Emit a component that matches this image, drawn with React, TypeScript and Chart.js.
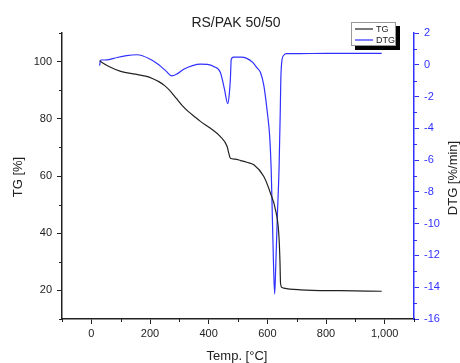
import React, { useEffect, useRef } from "react";
import { Chart, registerables } from "chart.js";

Chart.register(...registerables);

const chartTitle = "RS/PAK 50/50";
const xTitle = "Temp. [°C]";
const yTitle = "TG [%]";
const y2Title = "DTG [%/min]";

const xTicks = [0, 200, 400, 600, 800, 1000];
const yTicks = [20, 40, 60, 80, 100];
const y2Ticks = [-16, -14, -12, -10, -8, -6, -4, -2, 0, 2];

const tgTemp = [28, 35, 60, 100, 150, 185, 210, 230, 250, 270, 290, 310, 330, 350, 372, 406, 440, 463, 469, 474, 490, 509, 530, 554, 588, 611, 628, 639, 643, 645, 650, 656, 713, 850, 990];
const tgVal = [100.3, 99.8, 98.3, 96.6, 95.6, 94.9, 94.0, 93.0, 91.6, 89.6, 87.1, 84.6, 82.6, 80.9, 79.1, 76.7, 73.8, 70.3, 67.8, 66.2, 65.9, 65.4, 64.8, 63.9, 59.8, 53.9, 48.1, 39.9, 30.5, 22.4, 21.0, 20.8, 20.2, 19.9, 19.7];

const dtgTemp = [28, 32, 45, 60, 88, 120, 156, 201, 230, 255, 274, 290, 315, 345, 372, 395, 417, 440, 454, 465, 470, 474, 477, 485, 510, 530, 550, 565, 577, 588, 600, 608, 613, 617, 621, 625, 629, 634, 640, 644, 646, 650, 656, 665, 700, 800, 900, 990];
const dtgVal = [-0.05, 0.3, 0.3, 0.32, 0.46, 0.58, 0.63, 0.35, 0.0, -0.4, -0.7, -0.6, -0.28, -0.05, 0.04, 0.02, -0.11, -0.49, -1.55, -2.45, -1.9, -0.91, 0.35, 0.48, 0.48, 0.4, 0.15, -0.2, -0.5, -1.3, -3.0, -4.5, -6.5, -9.5, -12.5, -14.43, -12.5, -9.6, -6.5, -3.0, -0.9, 0.3, 0.6, 0.7, 0.7, 0.72, 0.72, 0.72];

const FONT = "'Liberation Sans', Arial, sans-serif";
const BLUE = "#3030ff";
const BLACK = "#222222";

const decorPlugin = {
  id: "decor",
  afterDraw(chart: any) {
    const ctx = chart.ctx as CanvasRenderingContext2D;
    const x = chart.scales.x;
    const y = chart.scales.y;
    const y2 = chart.scales.y2;
    const area = chart.chartArea;
    ctx.save();
    ctx.lineWidth = 1;
    ctx.strokeStyle = BLACK;
    for (let v = -100; v <= 1100; v += 200) {
      const px = Math.round(x.getPixelForValue(v)) + 0.5;
      ctx.beginPath();
      ctx.moveTo(px, area.bottom);
      ctx.lineTo(px, area.bottom + 3);
      ctx.stroke();
    }
    for (let v = 10; v <= 110; v += 20) {
      const py = Math.round(y.getPixelForValue(v)) + 0.5;
      ctx.beginPath();
      ctx.moveTo(area.left, py);
      ctx.lineTo(area.left - 3, py);
      ctx.stroke();
    }
    ctx.strokeStyle = BLUE;
    for (let v = -15; v <= 1; v += 2) {
      const py = Math.round(y2.getPixelForValue(v)) + 0.5;
      ctx.beginPath();
      ctx.moveTo(area.right, py);
      ctx.lineTo(area.right + 3, py);
      ctx.stroke();
    }
    ctx.fillStyle = BLACK;
    ctx.textAlign = "center";
    ctx.textBaseline = "middle";
    ctx.font = `14px ${FONT}`;
    ctx.fillText(chartTitle, 236, 23);
    ctx.font = `13px ${FONT}`;
    ctx.fillText(xTitle, 237, 356);
    ctx.save();
    ctx.translate(18, 177);
    ctx.rotate(-Math.PI / 2);
    ctx.fillText(yTitle, 0, 0);
    ctx.restore();
    ctx.save();
    ctx.translate(453, 178);
    ctx.rotate(-Math.PI / 2);
    ctx.fillText(y2Title, 0, 0);
    ctx.restore();
    ctx.fillStyle = "#000";
    ctx.fillRect(355, 26, 45, 24);
    ctx.fillStyle = "#fff";
    ctx.fillRect(351, 22, 45, 24);
    ctx.strokeStyle = "#999";
    ctx.lineWidth = 1;
    ctx.strokeRect(351.5, 22.5, 44, 23);
    const ds = chart.data.datasets;
    const rows = [29, 40];
    ds.forEach((d: any, i: number) => {
      ctx.strokeStyle = d.borderColor;
      ctx.lineWidth = 1.2;
      ctx.beginPath();
      ctx.moveTo(355, rows[i]);
      ctx.lineTo(373, rows[i]);
      ctx.stroke();
      ctx.fillStyle = BLACK;
      ctx.font = `9px ${FONT}`;
      ctx.textAlign = "left";
      ctx.fillText(d.label, 376, rows[i] + 0.5);
    });
    ctx.restore();
  },
};

export default function App() {
  const ref = useRef<HTMLCanvasElement | null>(null);
  useEffect(() => {
    if (!ref.current) return;
    const chart = new Chart(ref.current, {
      type: "line",
      data: {
        datasets: [
          {
            label: "TG",
            data: tgTemp.map((t, i) => ({ x: t, y: tgVal[i] })),
            borderColor: BLACK,
            borderWidth: 1.2,
            pointRadius: 0,
            cubicInterpolationMode: "monotone",
            yAxisID: "y",
          },
          {
            label: "DTG",
            data: dtgTemp.map((t, i) => ({ x: t, y: dtgVal[i] })),
            borderColor: BLUE,
            borderWidth: 1.2,
            pointRadius: 0,
            cubicInterpolationMode: "monotone",
            yAxisID: "y2",
          },
        ],
      },
      options: {
        responsive: false,
        animation: false,
        devicePixelRatio: 1,
        layout: { padding: { top: 33, left: 0, right: 0, bottom: 0 } },
        plugins: { legend: { display: false }, title: { display: false }, tooltip: { enabled: false } },
        scales: {
          x: {
            type: "linear",
            min: -100,
            max: 1100,
            afterBuildTicks: (s: any) => { s.ticks = xTicks.map((v) => ({ value: v })); },
            afterFit: (s: any) => { s.height = 44; },
            grid: { drawOnChartArea: false, drawTicks: true, tickLength: 5, tickColor: BLACK },
            border: { display: true, color: BLACK, width: 1.5 },
            ticks: { color: BLACK, font: { family: FONT, size: 11 }, padding: 3, maxRotation: 0 },
          },
          y: {
            type: "linear",
            position: "left",
            min: 10,
            max: 110,
            afterBuildTicks: (s: any) => { s.ticks = yTicks.map((v) => ({ value: v })); },
            afterFit: (s: any) => { s.width = 62; },
            grid: { drawOnChartArea: false, drawTicks: true, tickLength: 5, tickColor: BLACK },
            border: { display: true, color: BLACK, width: 1.5 },
            ticks: { color: BLACK, font: { family: FONT, size: 11 }, padding: 5 },
          },
          y2: {
            type: "linear",
            position: "right",
            min: -16,
            max: 2,
            afterBuildTicks: (s: any) => { s.ticks = y2Ticks.map((v) => ({ value: v })); },
            afterFit: (s: any) => { s.width = 46; },
            grid: { drawOnChartArea: false, drawTicks: true, tickLength: 5, tickColor: BLUE },
            border: { display: true, color: BLUE, width: 1.5 },
            ticks: { color: BLUE, font: { family: FONT, size: 11 }, padding: 5 },
          },
        },
      },
      plugins: [decorPlugin],
    } as any);
    return () => chart.destroy();
  }, []);
  return (
    <div style={{ position: "fixed", left: 0, top: 0, width: 460, height: 363, background: "#fff" }}>
      <canvas ref={ref} width={460} height={363} style={{ width: 460, height: 363, display: "block" }} />
    </div>
  );
}
